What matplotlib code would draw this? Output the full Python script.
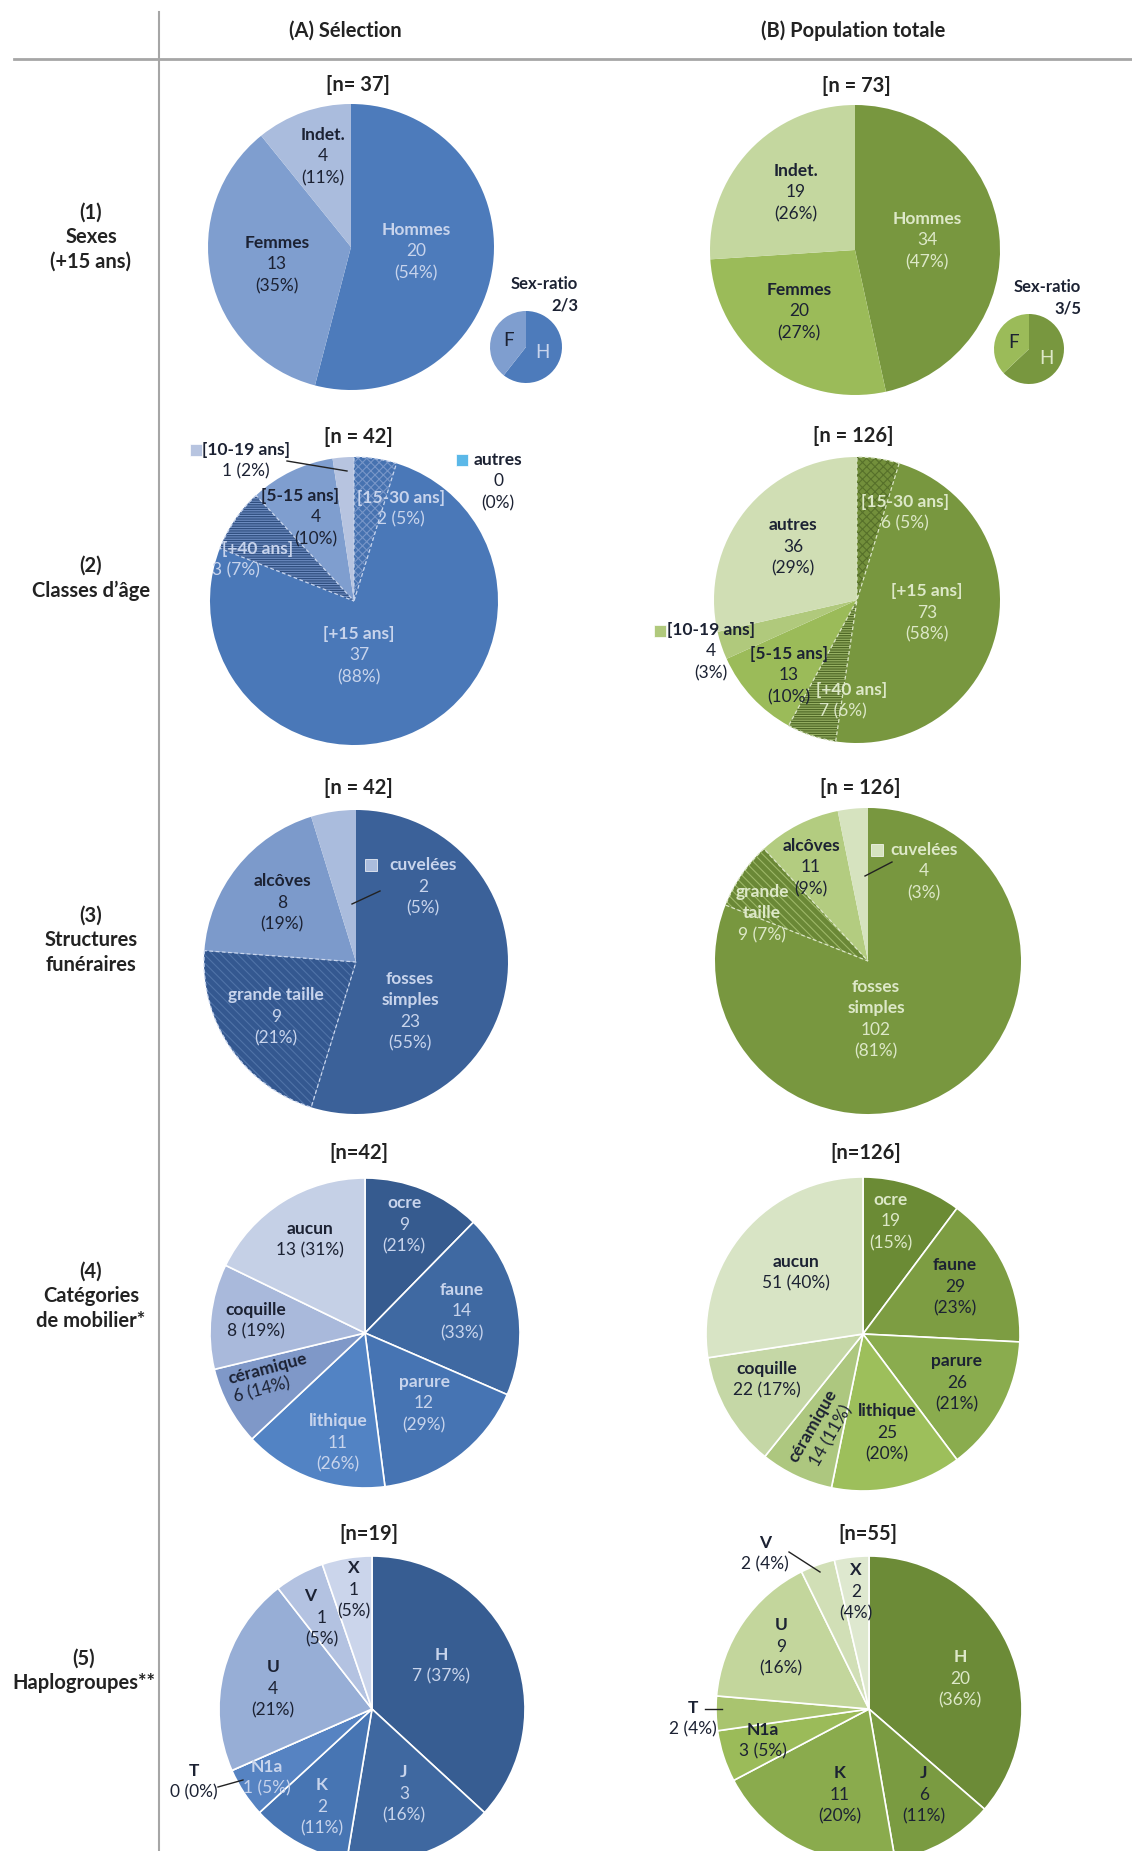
import matplotlib.pyplot as plt
from matplotlib.patches import Wedge

plt.rcParams['font.family'] = ['Lato', 'DejaVu Sans']
plt.rcParams['hatch.linewidth'] = 0.8

W, H = 1132, 1851

# (1) sexes (+15 ans)
sexe_noms = ['Hommes', 'Femmes', 'Indet.']
sexe_a = [20, 13, 4]
sexe_b = [34, 20, 19]
ratio_txt = ['2/3', '3/5']

# (2) classes d'age  (+ sous-classes hachurees dans [+15 ans])
age_noms = ['[+15 ans]', '[5-15 ans]', '[10-19 ans]', 'autres']
age_a = [37, 4, 1, 0]
age_b = [73, 13, 4, 36]
sous_noms = ['[15-30 ans]', '[+40 ans]']
sous_a = [2, 3]
sous_b = [6, 7]

# (3) structures funeraires
struct_noms = ['fosses\nsimples', 'grande taille', 'alcôves', 'cuvelées']
struct_a = [23, 9, 8, 2]
struct_b = [102, 9, 11, 4]

# (4) categories de mobilier
mob_noms = ['ocre', 'faune', 'parure', 'lithique', 'céramique', 'coquille', 'aucun']
mob_a = [9, 14, 12, 11, 6, 8, 13]
mob_b = [19, 29, 26, 25, 14, 22, 51]
n_mob = [42, 126]

# (5) haplogroupes
haplo_noms = ['H', 'J', 'K', 'N1a', 'T', 'U', 'V', 'X']
haplo_a = [7, 3, 2, 1, 0, 4, 1, 1]
haplo_b = [20, 6, 11, 3, 2, 9, 2, 2]

DARK = '#1c2233'
LB = '#c8d4ec'   # texte clair sur bleu
LG = '#dde8c8'   # texte clair sur vert
FS = 12.5

fig = plt.figure(figsize=(W / 100, H / 100), dpi=100)
ax = fig.add_axes([0, 0, 1, 1])


def pct(v, n):
    return int(100.0 * v / n + 0.5)


def pie(vals, cols, cx, cy, r, lw=0.0):
    w, _ = ax.pie(vals, colors=cols, center=(cx, H - cy), radius=r, startangle=90,
                  counterclock=False, wedgeprops=dict(edgecolor='white', linewidth=lw))
    return w


def hatch(w, face, hc, pat, ec='white'):
    w.set_facecolor(face)
    w.set_hatch(pat)
    w.set_edgecolor(hc)
    w.set_linewidth(0)
    ax.add_patch(Wedge(w.center, w.r, w.theta1, w.theta2, fill=False, ec=ec,
                       lw=0.9, ls=(0, (3, 2))))


def lab(x, y, nom, v, n, col, mode=3, x2=None, dy=21.5):
    # mode 3: nom / v / (p%)   mode 2: nom / v (p%)
    lines = nom.split('\n')
    if mode == 3:
        rest = [str(v), '(%d%%)' % pct(v, n)]
    else:
        rest = ['%d (%d%%)' % (v, pct(v, n))]
    k = 0
    for s in lines:
        ax.text(x, H - y - k * dy, s, ha='center', va='center', color=col,
                fontsize=FS, fontweight='bold')
        k += 1
    for s in rest:
        ax.text(x if x2 is None else x2, H - y - k * dy, s, ha='center', va='center',
                color=col, fontsize=FS)
        k += 1


def rlab(x, y, nom, v, n, col, rot, off):
    ax.text(x, H - y, nom, ha='center', va='center', color=col, fontsize=FS,
            fontweight='bold', rotation=rot, rotation_mode='anchor')
    ax.text(x + off[0], H - y - off[1], '%d (%d%%)' % (v, pct(v, n)), ha='center',
            va='center', color=col, fontsize=FS, rotation=rot, rotation_mode='anchor')


def line(x1, y1, x2, y2):
    ax.plot([x1, x2], [H - y1, H - y2], color='#222222', lw=1)


def square(x, y, c):
    ax.plot(x, H - y, marker='s', ms=8, color=c, mec='white', mew=0.5)


def title(x, y, s, fs=14.5):
    ax.text(x, H - y, s, ha='center', va='center', fontsize=fs, fontweight='bold',
            color='#222222')


# cadre
ax.plot([159, 159], [H - 12, 0], color='#a6a6a6', lw=1.5)
ax.plot([14, W], [H - 59, H - 59], color='#a6a6a6', lw=2)
title(345, 31, '(A) Sélection')
title(853, 31, '(B) Population totale')
for (x, y, s) in [(91, 237, '(1)\nSexes\n(+15 ans)'), (91, 578, '(2)\nClasses d’âge'),
                  (91, 940, '(3)\nStructures\nfunéraires'),
                  (91, 1296, '(4)\nCatégories\nde mobilier*'),
                  (84, 1671, '(5)\nHaplogroupes**')]:
    ax.text(x, H - y, s, ha='center', va='center', fontsize=14.5, fontweight='bold',
            color='#222222', linespacing=1.3, multialignment='center')

# ---------- (1) sexes ----------
blue1 = ['#4d7bbb', '#7f9ecf', '#aabcdd']
green1 = ['#78973f', '#9bbb59', '#c4d79f']
n = sum(sexe_a)
title(358, 85, '[n= %d]' % n)
pie(sexe_a, blue1, 351, 247, 143)
lab(416, 230, sexe_noms[0], sexe_a[0], n, LB)
lab(277, 243, sexe_noms[1], sexe_a[1], n, DARK)
lab(323, 135, sexe_noms[2], sexe_a[2], n, DARK)
pie(sexe_a[:2], blue1[:2], 526, 347, 36)
ax.text(509, H - 341, 'F', ha='center', va='center', fontsize=FS + 1, color=DARK)
ax.text(542, H - 353, 'H', ha='center', va='center', fontsize=FS + 1, color=LB)
ax.text(578, H - 284, 'Sex-ratio', ha='right', va='center', fontsize=FS - 0.5,
        fontweight='bold', color=DARK)
ax.text(578, H - 306, ratio_txt[0], ha='right', va='center', fontsize=FS - 0.5,
        fontweight='bold', color=DARK)

n = sum(sexe_b)
title(856, 86, '[n = %d]' % n)
pie(sexe_b, green1, 855, 250, 145)
lab(927, 219, sexe_noms[0], sexe_b[0], n, LG)
lab(799, 290, sexe_noms[1], sexe_b[1], n, DARK)
lab(796, 171, sexe_noms[2], sexe_b[2], n, DARK)
pie(sexe_b[:2], green1[:2], 1029, 349, 35)
ax.text(1014, H - 343, 'F', ha='center', va='center', fontsize=FS + 1, color=DARK)
ax.text(1046, H - 358, 'H', ha='center', va='center', fontsize=FS + 1, color=LG)
ax.text(1081, H - 287, 'Sex-ratio', ha='right', va='center', fontsize=FS - 0.5,
        fontweight='bold', color=DARK)
ax.text(1081, H - 309, ratio_txt[1], ha='right', va='center', fontsize=FS - 0.5,
        fontweight='bold', color=DARK)

# ---------- (2) classes d'age ----------
blue2 = ['#4a78b8', '#7f9ecf', '#b7c4e0', '#5bb8e8']
green2 = ['#78973f', '#9bbb59', '#b0c97c', '#d0deb4']


def age_pie(vals, sous, cols, cx, cy, r, h1, h2):
    pie(vals, cols, cx, cy, r)
    ov = pie([sous[0], vals[0] - sum(sous), sous[1], sum(vals) - vals[0]],
             ['none'] * 4, cx, cy, r)
    ov[1].set_visible(False)
    ov[3].set_visible(False)
    hatch(ov[0], h1[0], h1[1], 'xxxx', ec=h1[2])
    hatch(ov[2], h2[0], h2[1], '-------', ec=h2[2])


n = sum(age_a)
title(358, 437, '[n = %d]' % n)
age_pie(age_a, sous_a, blue2, 354, 601, 144,
        ('#4672b0', '#7896c8', '#c9d6ee'), ('#2f4e7f', '#6f8ec3', '#c9d6ee'))
lab(359, 634, age_noms[0], age_a[0], n, LB)
lab(300, 496, age_noms[1], age_a[1], n, DARK, x2=316)
lab(246, 450, age_noms[2], age_a[2], n, DARK, mode=2)
square(196, 450, blue2[2])
line(287, 461, 347, 471)
lab(498, 460, age_noms[3], age_a[3], n, DARK)
square(462, 460, blue2[3])
lab(401, 498, sous_noms[0], sous_a[0], n, LB, mode=2)
lab(258, 549, sous_noms[1], sous_a[1], n, LB, mode=2, x2=236)

n = sum(age_b)
title(853, 436, '[n = %d]' % n)
age_pie(age_b, sous_b, green2, 857, 600, 143,
        ('#728f3b', '#56702a', '#dbe6c6'), ('#4f6826', '#98b264', '#dbe6c6'))
lab(927, 591, age_noms[0], age_b[0], n, LG)
lab(789, 654, age_noms[1], age_b[1], n, DARK)
lab(711, 630, age_noms[2], age_b[2], n, DARK)
square(660, 631, green2[2])
lab(793, 525, age_noms[3], age_b[3], n, DARK)
lab(905, 502, sous_noms[0], sous_b[0], n, LG, mode=2)
lab(852, 690, sous_noms[1], sous_b[1], n, LG, mode=2, x2=843)

# ---------- (3) structures funeraires ----------
blue3 = ['#3b6199', '#3b6199', '#7c9acb', '#aabcdd']
green3 = ['#78973f', '#78973f', '#b3cc80', '#d6e3bf']

n = sum(struct_a)
title(358, 788, '[n = %d]' % n)
w = pie(struct_a, blue3, 356, 962, 152)
hatch(w[1], '#345890', '#5073a8', '\\\\\\\\', ec='#c9d6ee')
lab(410, 979, struct_noms[0], struct_a[0], n, LB)
lab(276, 995, struct_noms[1], struct_a[1], n, LB)
lab(282, 881, struct_noms[2], struct_a[2], n, DARK)
lab(423, 865, struct_noms[3], struct_a[3], n, LB)
square(371, 865, blue3[3])
line(352, 904, 380, 891)

n = sum(struct_b)
title(860, 788, '[n = %d]' % n)
w = pie(struct_b, green3, 868, 961, 153)
hatch(w[1], '#6a8836', '#9db868', '\\\\\\\\', ec='#dbe6c6')
lab(876, 987, struct_noms[0], struct_b[0], n, LG)
lab(762, 892, struct_noms[1].replace(' ', '\n'), struct_b[1], n, LG, mode=2)
lab(811, 846, struct_noms[2], struct_b[2], n, DARK)
lab(924, 850, struct_noms[3], struct_b[3], n, LG)
square(877, 850, green3[3])
line(865, 876, 892, 862)

# ---------- (4) mobilier ----------
blue4 = ['#365b8f', '#3f69a2', '#4674b3', '#5283c4', '#7f98c8', '#a9b9db', '#c5d0e6']
green4 = ['#6b8b35', '#7d9d42', '#8aac4e', '#9dbf5b', '#adc77f', '#c5d7a6', '#d8e4c5']

n = n_mob[0]
title(359, 1153, '[n=%d]' % n)
pie(mob_a, blue4, 365, 1333, 155, lw=1.2)
lab(404, 1203, mob_noms[0], mob_a[0], n, LB)
lab(462, 1290, mob_noms[1], mob_a[1], n, LB)
lab(424, 1382, mob_noms[2], mob_a[2], n, LB)
lab(338, 1421, mob_noms[3], mob_a[3], n, LB)
rlab(268, 1369, mob_noms[4], mob_a[4], n, DARK, 15, (-6, 21))
lab(256, 1310, mob_noms[5], mob_a[5], n, DARK, mode=2)
lab(310, 1229, mob_noms[6], mob_a[6], n, DARK, mode=2)

n = n_mob[1]
title(866, 1153, '[n=%d]' % n)
pie(mob_b, green4, 863, 1334, 157, lw=1.2)
lab(891, 1200, mob_noms[0], mob_b[0], n, LG)
lab(955, 1265, mob_noms[1], mob_b[1], n, DARK)
lab(957, 1361, mob_noms[2], mob_b[2], n, DARK)
lab(887, 1411, mob_noms[3], mob_b[3], n, DARK)
rlab(813, 1426, mob_noms[4], mob_b[4], n, DARK, 60, (18, 10))
lab(767, 1369, mob_noms[5], mob_b[5], n, DARK, mode=2)
lab(796, 1262, mob_noms[6], mob_b[6], n, DARK, mode=2)

# ---------- (5) haplogroupes ----------
blue5 = ['#375d92', '#3f68a0', '#4775b3', '#5683c2', '#6f8fc9', '#97aed6', '#b3c2e1', '#cbd5eb']
green5 = ['#6c8b37', '#7a9b41', '#8aab4d', '#9bbb59', '#a9c46f', '#c3d69c', '#d1dfb6', '#dee8cf']

n = sum(haplo_a)
title(369, 1534, '[n=%d]' % n)
pie(haplo_a, blue5, 372, 1709, 153, lw=1.2)
lab(441, 1655, haplo_noms[0], haplo_a[0], n, LB, mode=2)
lab(404, 1772, haplo_noms[1], haplo_a[1], n, LB)
lab(322, 1785, haplo_noms[2], haplo_a[2], n, LB)
lab(267, 1767, haplo_noms[3], haplo_a[3], n, LB, mode=2)
lab(194, 1771, haplo_noms[4], haplo_a[4], n, DARK, mode=2)
line(218, 1787, 243, 1780)
lab(273, 1667, haplo_noms[5], haplo_a[5], n, DARK)
lab(310, 1596, haplo_noms[6], haplo_a[6], n, DARK, x2=322)
lab(354, 1568, haplo_noms[7], haplo_a[7], n, DARK)

n = sum(haplo_b)
title(868, 1534, '[n=%d]' % n)
pie(haplo_b, green5, 869, 1709, 153, lw=1.2)
lab(960, 1657, haplo_noms[0], haplo_b[0], n, LG)
lab(924, 1773, haplo_noms[1], haplo_b[1], n, DARK)
lab(840, 1773, haplo_noms[2], haplo_b[2], n, DARK)
lab(763, 1730, haplo_noms[3], haplo_b[3], n, DARK, mode=2)
lab(693, 1708, haplo_noms[4], haplo_b[4], n, DARK, mode=2)
line(705, 1709, 722, 1709)
lab(781, 1625, haplo_noms[5], haplo_b[5], n, DARK)
lab(765, 1543, haplo_noms[6], haplo_b[6], n, DARK, mode=2)
line(789, 1552, 820, 1572)
lab(856, 1570, haplo_noms[7], haplo_b[7], n, DARK)

ax.set_xlim(0, W)
ax.set_ylim(0, H)
ax.set_aspect('auto')
ax.axis('off')
fig.savefig('out.png', dpi=100, facecolor='white')
